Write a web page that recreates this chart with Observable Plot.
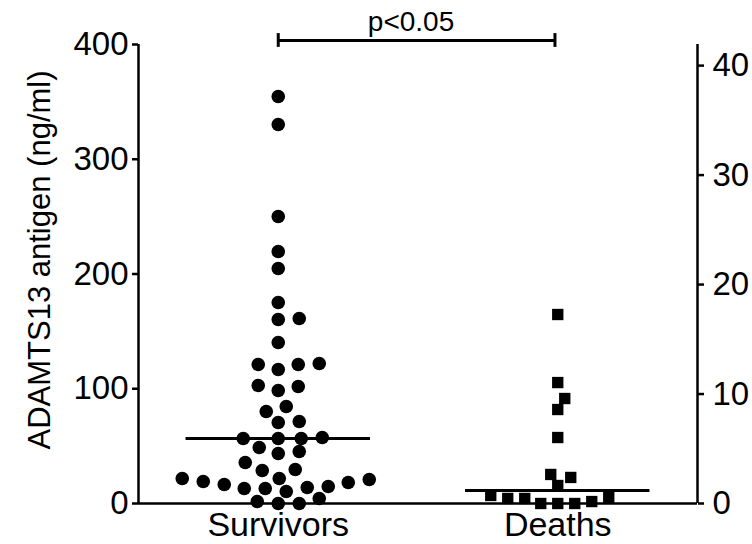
<!DOCTYPE html>
<html>
<head>
<meta charset="utf-8">
<script src="https://cdn.jsdelivr.net/npm/d3@7"></script>
<script src="https://cdn.jsdelivr.net/npm/@observablehq/plot@0.6"></script>
<style>
  html, body { margin: 0; padding: 0; background: #fff; }
</style>
</head>
<body>
<div id="chart"></div>
<script>
// ---- data ----
const groups = ["Survivors", "Deaths"];
const survivors = [354.7, 330.3, 250.1, 219.6, 204.8, 175.2, 160.3, 161.2, 140.3,
  121.1, 116.8, 121.1, 122.0, 102.0, 98.5, 102.8, 80.2, 84.5, 71.5, 70.6,
  56.6, 56.6, 56.6, 57.5, 45.3, 43.6, 48.8, 35.7, 29.6, 28.8, 21.8, 20.9,
  18.3, 16.6, 19.2, 21.8, 14.8, 13.1, 10.5, 13.1, 13.9, 1.7, 0, 0, 4.4];
const deaths = [164.7, 105.4, 91.5, 81.9, 57.5, 22.7, 25.3, 15.7,
  5.2, 4.4, 0, 0, 0, 1.7, 4.4, 7.0];
const leftTicks = [0, 100, 200, 300, 400];
const rightTicks = [0, 10, 20, 30, 40];
const yLabel = "ADAMTS13 antigen (ng/ml)";
const pLabel = "p<0.05";

// ---- layout ----
const W = 752, H = 544;
const mL = 138, mR = 55, mT = 44, mB = 41;
const kx = (W - mL - mR) / 2;      // px per x unit
const ky = (H - mT - mB) / 400;    // px per y unit
const rightScale = 9.54;           // left units per right-axis unit
const font = "'Liberation Sans', Arial, Helvetica, sans-serif";

// simple beeswarm (nearest free slot to the group centre)
function swarm(values, center, dw, dh) {
  const order = d3.range(values.length).sort((a, b) => values[a] - values[b]);
  const placed = [];
  const out = new Array(values.length);
  for (const i of order) {
    const py = values[i] * ky;
    let off = 0;
    for (let k = 0; k < 2000; k++) {
      const cand = (k % 2 ? 1 : -1) * Math.ceil(k / 2);
      const ok = placed.every(p => ((cand - p.x) / dw) ** 2 + ((py - p.y) / dh) ** 2 >= 1);
      if (ok) { off = cand; break; }
    }
    placed.push({x: off, y: py});
    out[i] = {group: groups[center === 0.5 ? 0 : 1], x: center + off / kx, y: values[i]};
  }
  return out;
}

const sPts = swarm(survivors, 0.5, 21, 13);
const dPts = swarm(deaths, 1.5, 17, 12);
const medians = [
  {c: 0.5, m: d3.median(survivors)},
  {c: 1.5, m: d3.median(deaths)}
];
const bracketY = 403.5;

const chart = Plot.plot({
  width: W, height: H,
  marginLeft: mL, marginRight: mR, marginTop: mT, marginBottom: mB,
  style: {fontFamily: font, background: "#fff", color: "#000"},
  x: {domain: [0, 2]},
  y: {domain: [0, 400]},
  marks: [
    Plot.axisY({ticks: leftTicks, tickSize: 6, tickPadding: 4, fontSize: 33, label: null, strokeWidth: 2.5}),
    Plot.axisY({anchor: "right", ticks: rightTicks.map(r => r * rightScale),
      tickFormat: d => String(Math.round(d / rightScale)),
      tickSize: 6, tickPadding: 9, fontSize: 33, label: null, strokeWidth: 2.5}),
    Plot.axisX({ticks: [0.5, 1.5], tickFormat: d => groups[Math.round(d - 0.5)],
      tickSize: 4, tickPadding: 4, fontSize: 34, label: null, strokeWidth: 2}),
    Plot.text([yLabel], {frameAnchor: "left", dx: -98, dy: -14, rotate: -90, textAnchor: "middle",
      fontSize: 31, fill: "#000"}),
    Plot.ruleX([0, 2], {strokeWidth: 2.5}),
    Plot.ruleY([0], {strokeWidth: 2.5}),
    Plot.ruleY(medians, {y: "m", x1: d => d.c - 0.33, x2: d => d.c + 0.33, strokeWidth: 3}),
    Plot.dot(sPts, {x: "x", y: "y", r: 6.8, fill: "#000", stroke: null}),
    Plot.dot(dPts, {x: "x", y: "y", r: 6.4, symbol: "square", fill: "#000", stroke: null}),
    // significance bracket
    Plot.ruleY([bracketY], {x1: 0.5, x2: 1.49, strokeWidth: 3}),
    Plot.ruleX([0.5, 1.49], {y1: bracketY - 6, y2: bracketY + 6, strokeWidth: 3}),
    Plot.text([pLabel], {x: 0.975, y: bracketY, dy: -9, lineAnchor: "bottom", fontSize: 28, fill: "#000"})
  ]
});
document.getElementById("chart").appendChild(chart);
</script>
</body>
</html>
